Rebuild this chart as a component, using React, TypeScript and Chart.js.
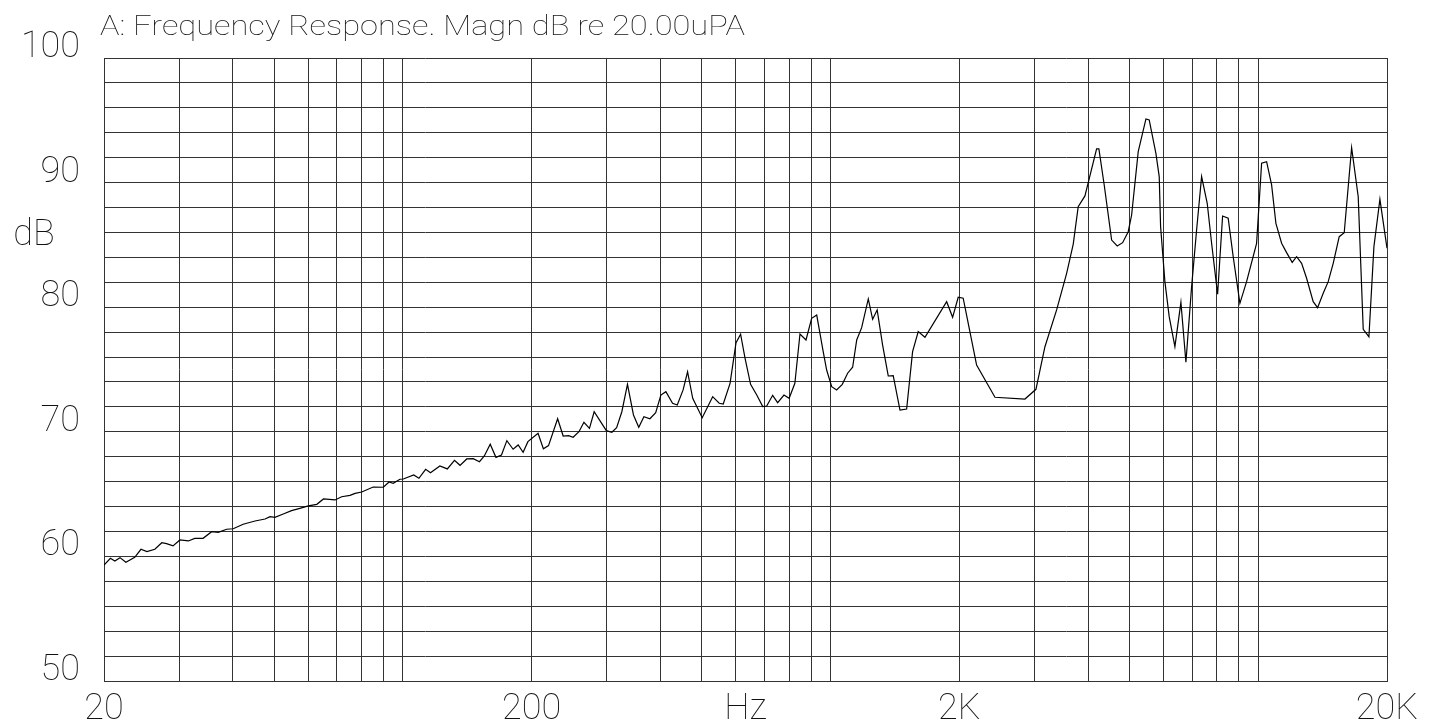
import { useEffect, useRef } from 'react';
import { Chart, registerables } from 'chart.js';

Chart.register(...registerables);

const TITLE = 'A: Frequency Response. Magn dB re 20.00uPA';
const Y_UNIT = 'dB';
const X_UNIT = 'Hz';

// Frequency (Hz) of each measured point
const frequencyHz = [
  20, 20.7, 21.2, 21.8, 22.5, 23.6, 24.4, 25.2, 26.3, 27.3,
  28.0, 29.0, 30.1, 31.5, 32.6, 34.1, 35.7, 37.0, 38.7, 40.1,
  42.3, 45.1, 47.6, 48.9, 50.2, 52.5, 54.9, 57.4, 60.1, 62.9,
  65.2, 69.4, 71.9, 75.2, 77.3, 80.1, 85.2, 90.0, 92.8, 94.9,
  98.4, 100.2, 106, 109, 113, 116, 122, 127, 132, 136,
  141, 146, 151, 155, 160, 165, 170, 175, 181, 186,
  191, 196, 207, 213, 219, 230, 237, 244, 250, 258,
  265, 273, 280, 299, 308, 316, 325, 335, 346, 356,
  366, 378, 390, 401, 412, 427, 438, 452, 463, 476,
  501, 530, 549, 561, 582, 601, 616, 631, 650, 672,
  694, 709, 732, 752, 778, 800, 825, 848, 876, 903,
  928, 961, 979, 1006, 1033, 1065, 1096, 1126, 1151, 1182,
  1225, 1254, 1285, 1323, 1364, 1401, 1453, 1506, 1555, 1603,
  1662, 1868, 1929, 1988, 2042, 2117, 2195, 2423, 2847, 3021,
  3171, 3377, 3564, 3693, 3793, 3933, 4188, 4240, 4363, 4541,
  4680, 4818, 4965, 5057, 5240, 5462, 5559, 5763, 5867, 5911,
  6049, 6191, 6384, 6594, 6774, 6985, 7175, 7371, 7597, 7779,
  8034, 8253, 8505, 8738, 9059, 9391, 9911, 10182, 10460, 10745,
  10997, 11339, 11649, 12005, 12293, 12629, 12973, 13442, 13764, 14186,
  14573, 14971, 15463, 15885, 16531, 17129, 17597, 18145, 18640, 19252,
  20000,
];

// Magnitude (dB re 20 uPa) at each frequency
const magnitudeDb = [
  59.3, 59.85, 59.63, 59.9, 59.53, 59.93, 60.57, 60.38, 60.57, 61.1,
  61.02, 60.84, 61.32, 61.24, 61.45, 61.45, 61.98, 61.93, 62.18, 62.22,
  62.58, 62.84, 63.0, 63.19, 63.14, 63.4, 63.67, 63.86, 64.05, 64.18,
  64.61, 64.53, 64.79, 64.9, 65.06, 65.17, 65.57, 65.55, 65.97, 65.87,
  66.19, 66.21, 66.53, 66.27, 66.99, 66.72, 67.26, 67.02, 67.71, 67.31,
  67.82, 67.84, 67.6, 68.06, 69.0, 67.95, 68.14, 69.29, 68.6, 68.94,
  68.36, 69.21, 69.88, 68.64, 68.89, 71.05, 69.66, 69.69, 69.56, 70.01,
  70.76, 70.28, 71.61, 70.09, 69.96, 70.33, 71.61, 73.81, 71.35, 70.36,
  71.21, 71.05, 71.53, 72.95, 73.22, 72.29, 72.15, 73.36, 74.82, 72.69,
  71.13, 72.82, 72.29, 72.23, 73.89, 77.15, 77.83, 75.9, 73.81, 72.95,
  72.02, 72.07, 72.93, 72.34, 72.95, 72.69, 73.89, 77.85, 77.37, 79.11,
  79.37, 76.43, 74.96, 73.62, 73.36, 73.81, 74.7, 75.18, 77.37, 78.36,
  80.66, 79.03, 79.78, 76.97, 74.48, 74.5, 71.75, 71.83, 76.43, 78.04,
  77.59, 80.44, 79.19, 80.8, 80.72, 78.04, 75.36, 72.77, 72.63, 73.41,
  76.83, 79.78, 82.72, 85.07, 88.07, 88.93, 92.7, 92.7, 89.81, 85.39,
  84.91, 85.18, 86.06, 87.4, 92.48, 95.11, 95.03, 92.35, 90.48, 86.46,
  82.05, 79.24, 76.83, 80.39, 75.58, 81.65, 86.2, 90.48, 88.34, 85.13,
  81.04, 87.32, 87.14, 84.05, 80.31, 82.05, 85.13, 91.55, 91.68, 89.81,
  86.73, 85.13, 84.38, 83.6, 84.05, 83.52, 82.32, 80.44, 79.96, 81.12,
  82.05, 83.52, 85.66, 85.98, 92.8, 88.87, 78.23, 77.63, 84.86, 88.66,
  84.73,
];

// Vertical grid lines (Hz)
const gridFrequencies = [
  20, 30, 40, 50, 60, 70, 80, 90, 100,
  200, 300, 400, 500, 600, 700, 800, 900, 1000,
  2000, 3000, 4000, 5000, 6000, 7000, 8000, 9000, 10000,
  20000,
];

const xLabelValues = [20, 200, 2000, 20000];
const xLabelTexts = ['20', '200', '2K', '20K'];
const yLabelValues = [50, 60, 70, 80, 90, 100];
const Y_MIN = 50;
const Y_MAX = 100;
const Y_GRID_STEP = 2;
const X_MIN = 20;
const X_MAX = 20000;

const FONT_FAMILY = 'Roboto, "DejaVu Sans", sans-serif';
const FONT_WEIGHT = '100';
const TEXT_COLOR = '#111';
const GRID_COLOR = '#333';
const LABEL_SIZE = 36;

const plotterText = {
  id: 'plotterText',
  afterDraw(chart: any) {
    const ctx = chart.ctx as CanvasRenderingContext2D;
    const area = chart.chartArea;
    ctx.save();
    ctx.fillStyle = TEXT_COLOR;

    // title
    ctx.font = `${FONT_WEIGHT} 28px ${FONT_FAMILY}`;
    ctx.textAlign = 'left';
    ctx.textBaseline = 'alphabetic';
    const w = ctx.measureText(TITLE).width;
    ctx.save();
    ctx.translate(area.left - 4, 35);
    ctx.scale(645 / w, 1);
    ctx.fillText(TITLE, 0, 0);
    ctx.restore();

    // axis units
    ctx.font = `${FONT_WEIGHT} ${LABEL_SIZE}px ${FONT_FAMILY}`;
    ctx.textAlign = 'center';
    ctx.fillText(Y_UNIT, 34, 245);
    ctx.fillText(X_UNIT, (area.left + area.right) / 2, 719);
    ctx.restore();
  },
};

export default function App() {
  const canvasRef = useRef<HTMLCanvasElement | null>(null);

  useEffect(() => {
    const canvas = canvasRef.current;
    if (!canvas) return;
    const labelFont = { family: FONT_FAMILY, size: LABEL_SIZE, weight: FONT_WEIGHT as any, lineHeight: 1 };
    const chart = new Chart(canvas, {
      type: 'line',
      data: {
        datasets: [
          {
            data: frequencyHz.map((f, i) => ({ x: f, y: magnitudeDb[i] })),
            borderColor: '#000',
            borderWidth: 1.2,
            pointRadius: 0,
            tension: 0,
            fill: false,
          },
        ],
      },
      options: {
        responsive: false,
        animation: false,
        devicePixelRatio: 1,
        layout: { padding: { top: 58, right: 54, left: 0, bottom: 0 } },
        plugins: {
          legend: { display: false },
          tooltip: { enabled: false },
          title: { display: false },
        },
        scales: {
          x: {
            type: 'logarithmic',
            min: X_MIN,
            max: X_MAX,
            afterBuildTicks: (s: any) => {
              s.ticks = gridFrequencies.map((v) => ({ value: v }));
            },
            afterFit: (s: any) => {
              s.height = 47;
            },
            ticks: {
              autoSkip: false,
              maxRotation: 0,
              minRotation: 0,
              padding: 11,
              color: TEXT_COLOR,
              font: labelFont,
              callback: (v: any) => {
                const i = xLabelValues.indexOf(Number(v));
                return i >= 0 ? xLabelTexts[i] : '';
              },
            },
            grid: { color: GRID_COLOR, lineWidth: 1, drawTicks: false },
            border: { display: true, color: GRID_COLOR },
          },
          y: {
            type: 'linear',
            min: Y_MIN,
            max: Y_MAX,
            afterFit: (s: any) => {
              s.width = 104;
            },
            ticks: {
              stepSize: Y_GRID_STEP,
              autoSkip: false,
              padding: 24,
              labelOffset: -10,
              color: TEXT_COLOR,
              font: labelFont,
              callback: (v: any) => {
                const r = Math.round(Number(v));
                return Math.abs(Number(v) - r) < 1e-6 && yLabelValues.includes(r) ? String(r) : '';
              },
            },
            grid: { color: GRID_COLOR, lineWidth: 1, drawTicks: false },
            border: { display: true, color: GRID_COLOR },
          },
        },
      } as any,
      plugins: [plotterText],
    });
    return () => chart.destroy();
  }, []);

  return (
    <div style={{ position: 'fixed', left: 0, top: 0, width: 1441, height: 728, background: '#fff' }}>
      <canvas ref={canvasRef} width={1441} height={728} style={{ display: 'block', width: 1441, height: 728 }} />
    </div>
  );
}
